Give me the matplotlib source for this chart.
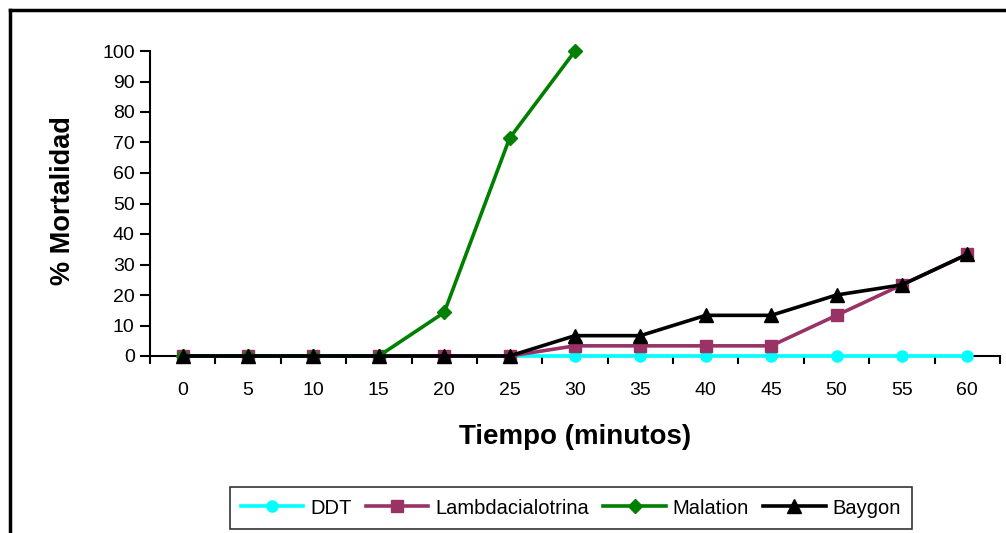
import numpy as np
import matplotlib
matplotlib.use("Agg")
from matplotlib import pyplot as plt
from matplotlib.lines import Line2D

plt.rcParams['font.family'] = ['Liberation Sans', 'DejaVu Sans']

# tiempo de exposicion (minutos) y % de mortalidad por insecticida
tiempo = [0, 5, 10, 15, 20, 25, 30, 35, 40, 45, 50, 55, 60]
ddt = [0, 0, 0, 0, 0, 0, 0, 0, 0, 0, 0, 0, 0]
lambdacialotrina = [0, 0, 0, 0, 0, 0, 3.33, 3.33, 3.33, 3.33, 13.33, 23.33, 33.33]
malation = [0, 0, 0, 0, 14.29, 71.43, 100]
baygon = [0, 0, 0, 0, 0, 0, 6.67, 6.67, 13.33, 13.33, 20, 23.33, 33.33]

fig = plt.figure(figsize=(10.06, 5.33), dpi=100)
ax = fig.add_axes([150 / 1006, 1 - 356 / 533, 850 / 1006, 305 / 533])

x = np.arange(len(tiempo))
lw = 2.6
ax.plot(x, ddt, color='#00FFFF', lw=lw, marker='o', ms=8, label='DDT',
        zorder=3, clip_on=False)
ax.plot(x, lambdacialotrina, color='#993366', lw=lw, marker='s', ms=8.5,
        label='Lambdacialotrina', zorder=4, clip_on=False)
ax.plot(x[:len(malation)], malation, color='#008000', lw=lw, marker='D', ms=7.5,
        label='Malation', zorder=5, clip_on=False)
ax.plot(x, baygon, color='black', lw=lw, marker='^', ms=10, label='Baygon',
        zorder=6, clip_on=False)

ax.set_xlim(-0.5, len(tiempo) - 0.5)
ax.set_ylim(0, 100)
ax.set_yticks(range(0, 101, 10))
ax.set_xticks(x)
ax.set_xticklabels([str(t) for t in tiempo], fontsize=14)
ax.set_xticks(np.arange(-0.5, len(tiempo)), minor=True)
ax.tick_params(axis='x', which='major', length=0, pad=19)
ax.tick_params(axis='x', which='minor', length=6, width=1.5, direction='out')
ax.tick_params(axis='y', labelsize=14, length=7, width=1.5, direction='out', pad=4)

for side in ['top', 'right']:
    ax.spines[side].set_visible(False)
ax.spines['left'].set_linewidth(1.5)
ax.spines['bottom'].set_linewidth(1.5)

fig.text(575 / 1006, 1 - 437 / 533, 'Tiempo (minutos)', fontsize=20,
         fontweight='bold', ha='center', va='center')
fig.text(63 / 1006, 1 - 201 / 533, '% Mortalidad', fontsize=19.5,
         fontweight='bold', ha='center', va='center', rotation=90)

handles = [Line2D([], [], color=l.get_color(), lw=lw, marker=l.get_marker(),
                  ms=l.get_markersize()) for l in ax.get_lines()]
leg = fig.legend(handles, ['DDT', 'Lambdacialotrina', 'Malation', 'Baygon'],
                 loc='center', bbox_to_anchor=(571 / 1006, 1 - 508 / 533),
                 ncol=4, fontsize=14.5, frameon=True, fancybox=False,
                 handlelength=3.1, handletextpad=0.35, columnspacing=0.7,
                 borderpad=0.55, borderaxespad=0, edgecolor='black')
leg.get_frame().set_linewidth(1.2)

# marco exterior del grafico
fig.add_artist(Line2D([10 / 1006, 10 / 1006], [0, 1 - 10 / 533],
                      color='black', lw=2.5, transform=fig.transFigure))
fig.add_artist(Line2D([10 / 1006, 1], [1 - 10 / 533, 1 - 10 / 533],
                      color='black', lw=2.5, transform=fig.transFigure))

fig.savefig('out.png', dpi=100)
